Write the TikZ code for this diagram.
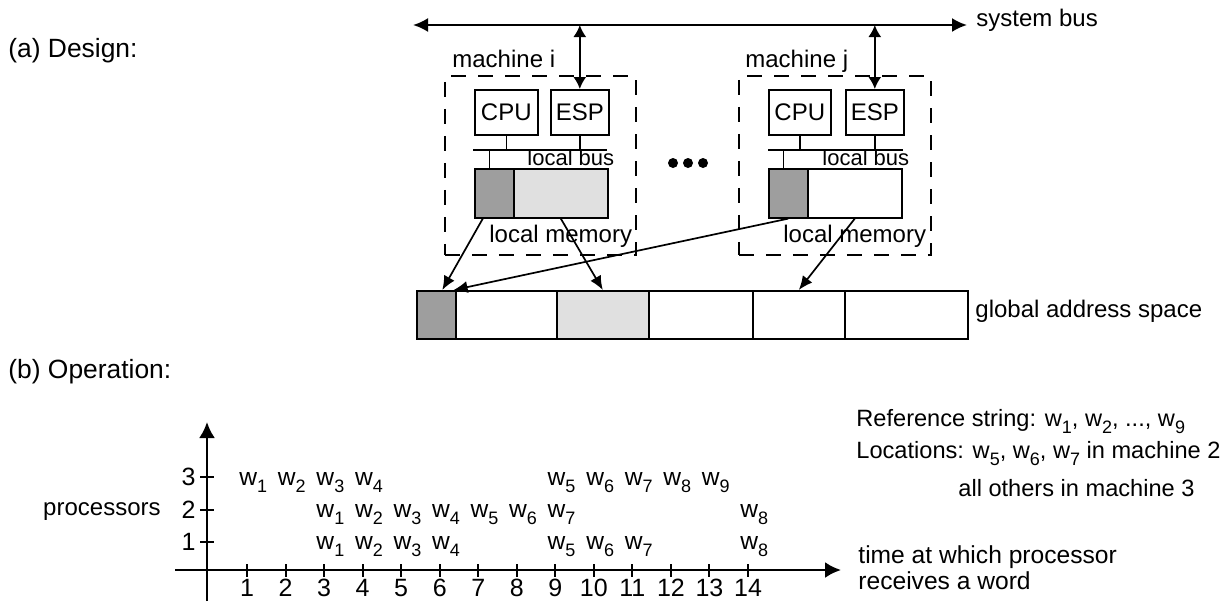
\documentclass[tikz,border=0pt]{standalone}
\usepackage{fontspec}
\setmainfont{Liberation Sans}
\usetikzlibrary{arrows.meta,calc}
\definecolor{darkfill}{gray}{0.62}
\definecolor{lightfill}{gray}{0.88}
\newcommand\wsub[1]{w\raisebox{-0.3em}{\fontsize{9}{10}\selectfont #1}}
\newcommand\bx[7]{\node[#6,minimum width=#4*0.5pt,minimum height=#5*0.5pt] (#1) at (#2,#3) {#7};}
\begin{document}
\begin{tikzpicture}[x=0.5pt,y=-0.5pt,
  font=\fontsize{12}{14}\selectfont,
  box/.style={draw,line width=0.8pt,inner sep=0pt,anchor=north west},
  frame/.style={draw,dash pattern=on 7.5pt off 6pt,line width=0.8pt,inner sep=0pt,anchor=north west},
  conn/.style={line width=0.8pt},
  arr/.style={-{Latex[length=7pt,width=6pt]},line width=0.85pt},
  darr/.style={{Latex[length=6pt,width=6.5pt]}-{Latex[length=6pt,width=6.5pt]},line width=0.9pt},
  busarr/.style={{Latex[length=7.5pt,width=7pt]}-{Latex[length=7.5pt,width=7pt]},line width=1.1pt},
  axis/.style={-{Latex[length=8pt,width=8pt]},line width=1.25pt},
  tickmark/.style={line width=1pt},
  lbl/.style={inner sep=0pt,anchor=base west},
  biglbl/.style={inner sep=0pt,anchor=base west,font=\fontsize{13.2}{15}\selectfont},
  wlbl/.style={inner sep=0pt,anchor=base west,font=\fontsize{12.3}{15}\selectfont},
  rlbl/.style={inner sep=0pt,anchor=base west,font=\fontsize{11.8}{15}\selectfont},
  smalllbl/.style={inner sep=0pt,anchor=base west,font=\fontsize{11}{12}\selectfont},
  numlbl/.style={inner sep=0pt,font=\fontsize{12.5}{14}\selectfont},
  dotnode/.style={circle,fill,inner sep=0pt,minimum size=5pt},
]
\useasboundingbox (0,0) rectangle (1230,601);

% ---------- (a) Design ----------
\node[biglbl] (design) at (8,57) {(a) Design:};
\coordinate (busL) at (413,25);
\coordinate (busR) at (967,25);
\draw[busarr] (busL) -- (busR);
\node[lbl] (sysbus) at (976,26) {system bus};

% machine i
\bx{mi}{444}{75}{191}{179}{frame}{}
\node[lbl] (mil) at (452,67) {machine i};
\bx{cpui}{474}{89}{63}{45}{box}{CPU}
\bx{espi}{550}{89}{58}{45}{box}{ESP}
\bx{mdi}{474}{168}{39}{49}{box,fill=darkfill}{}
\bx{mli}{513}{168}{94}{49}{box,fill=lightfill}{}
\coordinate (lbiL) at (473,150);
\coordinate (lbiR) at (607,150);
\draw[conn] (lbiL) -- (lbiR);
\draw[conn] (cpui.south) -- (cpui.south |- lbiL);
\draw[conn] (espi.south) -- (espi.south |- lbiL);
\draw[conn] ([xshift=-2.5pt]mdi.north) -- ([xshift=-2.5pt]mdi.north |- lbiL);
\node[smalllbl] (lbi) at (527,165) {local bus};
\node[lbl] (lmi) at (489,242) {local memory};
\coordinate (tapi) at (espi.north |- busL);
\draw[darr] (tapi) -- (espi.north);

% machine j
\bx{mj}{738}{75}{192}{179}{frame}{}
\node[lbl] (mjl) at (745,67) {machine j};
\bx{cpuj}{768}{89}{62}{45}{box}{CPU}
\bx{espj}{845}{89}{58}{45}{box}{ESP}
\bx{mdj}{768}{168}{39}{49}{box,fill=darkfill}{}
\bx{mlj}{807}{168}{94}{49}{box}{}
\coordinate (lbjL) at (768,150);
\coordinate (lbjR) at (903,150);
\draw[conn] (lbjL) -- (lbjR);
\draw[conn] (cpuj.south) -- (cpuj.south |- lbjL);
\draw[conn] (espj.south) -- (espj.south |- lbjL);
\draw[conn] ([xshift=-2.5pt]mdj.north) -- ([xshift=-2.5pt]mdj.north |- lbjL);
\node[smalllbl] (lbj) at (822,165) {local bus};
\node[lbl] (lmj) at (783,242) {local memory};
\coordinate (tapj) at (espj.north |- busL);
\draw[darr] (tapj) -- (espj.north);

% dots
\node[dotnode] (d1) at (673,163) {};
\node[dotnode] (d2) at (688,163) {};
\node[dotnode] (d3) at (703,163) {};

% global address space
\bx{g1}{416}{290}{39}{48}{box,fill=darkfill}{}
\bx{g2}{455}{290}{101}{48}{box}{}
\bx{g3}{556}{290}{92}{48}{box,fill=lightfill}{}
\bx{g4}{648}{290}{104}{48}{box}{}
\bx{g5}{752}{290}{92}{48}{box}{}
\bx{g6}{844}{290}{123}{48}{box}{}
\node[lbl] (gas) at (975,317) {global address space};

\draw[arr] ([xshift=-5.75pt]mdi.south) -- ([xshift=3pt]g1.north);
\draw[arr] (mli.south) -- (g3.north);
\draw[arr] (mdj.south) -- ([xshift=-1.5pt]g1.north east);
\draw[arr] (mlj.south) -- (g5.north);

% ---------- (b) Operation ----------
\node[biglbl] (oper) at (8,378) {(b) Operation:};
\coordinate (xo) at (175,570);
\coordinate (xe) at (841,570);
\coordinate (yo) at (207,601);
\coordinate (ye) at (207,422);
\draw[axis] (xo) -- (xe);
\draw[axis] (yo) -- (ye);

\foreach \k in {1,...,14}{
  \draw[tickmark] ({208.46+38.54*\k},564) -- ++(0,13);
  \node[numlbl,anchor=base] (t\k) at ({208.46+38.54*\k},596) {\k};
}
\foreach \y/\n in {477/3,510/2,542/1}{
  \draw[tickmark] (200,\y) -- (214,\y);
  \node[numlbl,anchor=east] (p\n) at (196,\y) {\n};
}
\node[inner sep=0pt,anchor=base east] (proc) at (161,515) {processors};

% row 3
\foreach \k/\i in {1/1,2/2,3/3,4/4,9/5,10/6,11/7,12/8,13/9}{
  \node[wlbl] (r3w\k) at ({208.46+38.54*\k-8},485) {\wsub{\i}};
}
% row 2
\foreach \k/\i in {3/1,4/2,5/3,6/4,7/5,8/6,9/7,14/8}{
  \node[wlbl] (r2w\k) at ({208.46+38.54*\k-8},517) {\wsub{\i}};
}
% row 1
\foreach \k/\i in {3/1,4/2,5/3,6/4,9/5,10/6,11/7,14/8}{
  \node[wlbl] (r1w\k) at ({208.46+38.54*\k-8},549) {\wsub{\i}};
}

\node[rlbl] (refs) at (856,426) {Reference string: \wsub{1}, \wsub{2}, ..., \wsub{9}};
\node[rlbl] (locs) at (856,458) {Locations: \wsub{5}, \wsub{6}, \wsub{7} in machine 2};
\node[rlbl] (others) at (958,496) {all others in machine 3};
\node[wlbl] (time1) at (858,563) {time at which processor};
\node[wlbl] (time2) at (858,589) {receives a word};
\end{tikzpicture}
\end{document}
